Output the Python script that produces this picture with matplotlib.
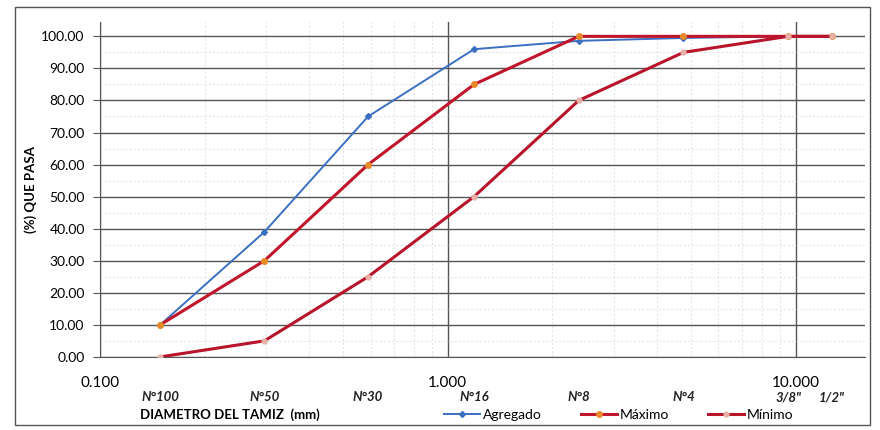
import matplotlib
matplotlib.use("Agg")
import matplotlib.pyplot as plt
from matplotlib.patches import Rectangle
from matplotlib.ticker import FixedLocator, NullFormatter, LogLocator

plt.rcParams['font.family'] = ['Lato', 'DejaVu Sans']

# Data
sieve_labels = ["N°100", "N°50", "N°30", "N°16", "N°8", "N°4", "3/8\"", "1/2\""]
sieve_mm = [0.149, 0.297, 0.590, 1.190, 2.380, 4.760, 9.510, 12.700]
agregado = [10.0, 39.0, 75.0, 96.0, 98.6, 99.5, 100.0, 100.0]
maximo = [10.0, 30.0, 60.0, 85.0, 100.0, 100.0, 100.0, 100.0]
minimo = [0.0, 5.0, 25.0, 50.0, 80.0, 95.0, 100.0, 100.0]
x_ticks = [0.1, 1.0, 10.0]
x_tick_labels = ["0.100", "1.000", "10.000"]
y_ticks = list(range(0, 101, 10))

fig = plt.figure(figsize=(8.8, 4.3), dpi=100)
ax = fig.add_axes([0.1136, 0.170, 0.869, 0.779])

ax.set_xscale('log')
ax.set_xlim(0.1, 15.8)
ax.set_ylim(0, 104.5)

# gridlines
ax.xaxis.set_minor_locator(LogLocator(base=10, subs=range(2, 10)))
ax.xaxis.set_minor_formatter(NullFormatter())
ax.yaxis.set_minor_locator(FixedLocator([v + 5 for v in y_ticks]))
ax.grid(True, which='major', axis='y', color='#555555', linewidth=1.0)
ax.grid(True, which='major', axis='x', color='#555555', linewidth=1.0)
ax.grid(True, which='minor', axis='both', color='#d6d6d6', linewidth=0.5, linestyle=(0, (3, 3)))
ax.set_axisbelow(True)

ax.plot(sieve_mm, agregado, color='#3b6fc2', linewidth=1.4, marker='D', markersize=3,
        markerfacecolor='#3b6fc2', markeredgecolor='#3b6fc2', label='Agregado', zorder=3)
ax.plot(sieve_mm, maximo, color='#c0152a', linewidth=2.2, marker='o', markersize=4,
        markerfacecolor='#e8892a', markeredgecolor='#e8892a', label='Máximo', zorder=4)
ax.plot(sieve_mm, minimo, color='#b8142a', linewidth=2.2, marker='o', markersize=3.5,
        markerfacecolor='#e8b0a8', markeredgecolor='#e8b0a8', label='Mínimo', zorder=4)

ax.set_xticks(x_ticks)
ax.set_xticklabels(x_tick_labels, fontsize=11)
ax.set_yticks(y_ticks)
ax.set_yticklabels([f"{v:.2f}" for v in y_ticks], fontsize=10)
ax.tick_params(axis='x', which='both', length=0, pad=14)
ax.tick_params(axis='y', which='both', length=0, pad=6)
ax.tick_params(axis='y', which='major', length=5, direction='out', color='#555555')

for s in ['top', 'right']:
    ax.spines[s].set_visible(False)
ax.spines['left'].set_color('#555555')
ax.spines['bottom'].set_color('#555555')

trans = ax.get_xaxis_transform()
for xv, lab in zip(sieve_mm, sieve_labels):
    ax.text(xv, -0.12, lab, transform=trans, ha='center', va='center',
            fontsize=9.5, fontstyle='italic', fontweight='bold', color='#222222')

ax.set_ylabel("(%) QUE PASA", fontsize=9.5, fontweight='bold', labelpad=3)
fig.text(0.159, 0.035, "DIAMETRO DEL TAMIZ  (mm)", fontsize=9.5, fontweight='bold',
         ha='left', va='center')

leg = fig.legend(loc='center', bbox_to_anchor=(0.703, 0.035), ncol=3, frameon=False,
                 fontsize=10, handlelength=2.6, columnspacing=2.8, handletextpad=0.2)

fig.patches.append(Rectangle((0.017, 0.012), 0.972, 0.972, transform=fig.transFigure,
                             fill=False, edgecolor='#555555', linewidth=1.0))

fig.savefig("out.png", dpi=100)
